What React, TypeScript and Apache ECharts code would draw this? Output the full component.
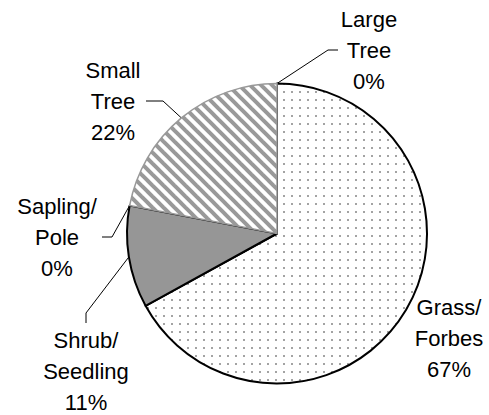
import React, { useEffect, useRef } from 'react';
import * as echarts from 'echarts';

// ---- data ----
const categories = ['Grass/Forbes', 'Shrub/Seedling', 'Sapling/Pole', 'Small Tree', 'Large Tree'];
const percentValues = [67, 11, 0, 22, 0];

// ---- layout (positions only) ----
const PIE_CX = 277;
const PIE_CY = 233.5;
const PIE_R = 150;
const labelCenters: [number, number][] = [
  [449, 338],
  [86, 371],
  [57, 237],
  [113, 101],
  [369, 50],
];
const elbowPoints: ([number, number][] | null)[] = [
  null,
  [[86, 313], [86, 323]],
  [[112, 237], [102, 237]],
  [[163, 101], [146, 101]],
  [[328, 50], [338, 50]],
];

function makeDotCanvas() {
  const c = document.createElement('canvas');
  c.width = 8;
  c.height = 8;
  const ctx = c.getContext('2d')!;
  ctx.fillStyle = '#ffffff';
  ctx.fillRect(0, 0, 8, 8);
  ctx.fillStyle = '#a3a3a3';
  ctx.fillRect(3, 3, 2, 2);
  return c;
}

function makeStripeCanvas(W: number, H: number) {
  const c = document.createElement('canvas');
  c.width = W;
  c.height = H;
  const ctx = c.getContext('2d')!;
  ctx.fillStyle = '#ffffff';
  ctx.fillRect(0, 0, W, H);
  ctx.strokeStyle = '#999999';
  ctx.lineWidth = 4;
  for (let k = -1; k <= 1; k++) {
    ctx.beginPath();
    ctx.moveTo(k * W - W, -H);
    ctx.lineTo(k * W + 2 * W, 2 * H);
    ctx.stroke();
  }
  return c;
}

function anchorFor(i: number): [number, number] {
  const total = percentValues.reduce((a, b) => a + b, 0);
  let cum = 0;
  for (let j = 0; j < i; j++) cum += percentValues[j];
  const mid = cum + percentValues[i] / 2;
  const ang = ((90 - (mid / total) * 360) * Math.PI) / 180;
  return [PIE_CX + PIE_R * Math.cos(ang), PIE_CY - PIE_R * Math.sin(ang)];
}

export default function App() {
  const ref = useRef<HTMLDivElement>(null);

  useEffect(() => {
    document.body.style.margin = '0';
    if (!ref.current) return;
    const chart = echarts.init(ref.current, undefined, { renderer: 'svg' });

    const dot = makeDotCanvas();
    const SW = 11;
    const SH = 11;
    const stripe = makeStripeCanvas(SW, SH);

    const itemStyles: any[] = [
      {
        color: { image: dot, repeat: 'repeat', imageWidth: 8, imageHeight: 8 },
        borderColor: '#000000',
        borderWidth: 2,
      },
      { color: '#969696', borderColor: '#000000', borderWidth: 2 },
      { color: '#969696', borderWidth: 0 },
      {
        color: { image: stripe, repeat: 'repeat', imageWidth: SW, imageHeight: SH },
        borderColor: '#999999',
        borderWidth: 1.5,
      },
      { color: '#ffffff', borderWidth: 0 },
    ];

    chart.setOption({
      animation: false,
      backgroundColor: '#ffffff',
      series: [
        {
          type: 'pie',
          center: [PIE_CX, PIE_CY],
          radius: PIE_R,
          startAngle: 90,
          clockwise: true,
          avoidLabelOverlap: false,
          silent: true,
          data: categories.map((name, i) => ({
            name,
            value: percentValues[i],
            itemStyle: itemStyles[i],
            labelLine: { show: i !== 0 },
          })),
          label: {
            show: true,
            position: 'outside',
            color: '#000000',
            fontSize: 22,
            lineHeight: 31,
            fontFamily: '"Liberation Sans", Arial, sans-serif',
            align: 'center',
            formatter: (p: any) =>
              p.name.replace('/', '/\n').replace(' ', '\n') + '\n' + p.value + '%',
          },
          labelLine: {
            show: true,
            length: 10,
            length2: 10,
            lineStyle: { color: '#000000', width: 1 },
          },
          labelLayout: (params: any) => {
            const i = params.dataIndex;
            const [lx, ly] = labelCenters[i];
            const res: any = { x: lx, y: ly, align: 'center', verticalAlign: 'middle' };
            const elbow = elbowPoints[i];
            if (elbow) res.labelLinePoints = [anchorFor(i), ...elbow];
            return res;
          },
        },
      ],
    });

    return () => chart.dispose();
  }, []);

  return <div ref={ref} style={{ width: 489, height: 415 }} />;
}
